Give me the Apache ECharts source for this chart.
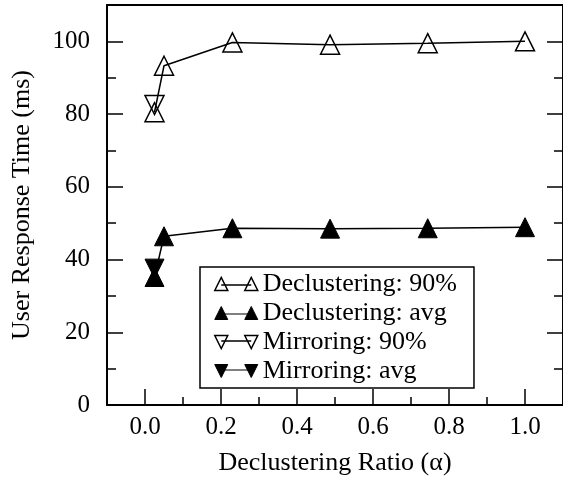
<!DOCTYPE html>
<html>
<head>
<meta charset="utf-8">
<script src="https://cdn.jsdelivr.net/npm/echarts@6/dist/echarts.min.js"></script>
<style>
  html, body { margin: 0; padding: 0; background: #fff; }
  #chart { width: 563px; height: 481px; }
</style>
</head>
<body>
<div id="chart"></div>
<script>
// Declustering ratio (alpha) at which each run was measured
const declRatio = [0.025, 0.05, 0.23, 0.487, 0.744, 1.0];
// User response time (ms)
const declP90 = [80.5, 93.3, 99.7, 99.1, 99.5, 100.0];
const declAvg = [35.2, 46.4, 48.6, 48.5, 48.6, 48.9];
const mirrRatio = [0.025];
const mirrP90 = [82.5];
const mirrAvg = [37.5];

const seriesNames = ['Declustering: 90%', 'Declustering: avg', 'Mirroring: 90%', 'Mirroring: avg'];
const xMajor = [0, 0.2, 0.4, 0.6, 0.8, 1.0];
const xMinor = [0.1, 0.3, 0.5, 0.7, 0.9];
const yMajor = [0, 20, 40, 60, 80, 100];
const yMinor = [10, 30, 50, 70, 90];

const FONT = 'Liberation Serif';
const INK = '#000';

const pairs = (xs, ys) => xs.map((x, i) => [x, ys[i]]);

// Legend glyphs: two markers joined by a short line
const upPair = 'path://M0 13 L6.5 0 L13 13 Z M6.5 7.5 L36.5 7.5 M30 13 L36.5 0 L43 13 Z';
const downPair = 'path://M0 0 L6.5 13 L13 0 Z M6.5 5.5 L36.5 5.5 M30 0 L36.5 13 L43 0 Z';

const hollow = { color: 'rgba(0,0,0,0)', borderColor: INK, borderWidth: 1.5 };
const solid = { color: INK, borderColor: INK, borderWidth: 1 };

const noLine = { show: false, onZero: false };
const axisLine = { show: true, onZero: false, lineStyle: { color: INK, width: 2 } };

function xAxisDef(extra) {
  return Object.assign({
    type: 'value', min: -0.1, max: 1.1, position: 'bottom',
    splitLine: { show: false },
    axisLine: noLine,
    axisTick: { show: false },
    axisLabel: { show: false }
  }, extra);
}
function yAxisDef(extra) {
  return Object.assign({
    type: 'value', min: 0, max: 110, position: 'left',
    splitLine: { show: false },
    axisLine: noLine,
    axisTick: { show: false },
    axisLabel: { show: false }
  }, extra);
}

const majorTick = (vals) => ({ show: true, inside: true, length: 16, customValues: vals, lineStyle: { color: INK, width: 1.5 } });
const minorTick = (vals, len) => ({ show: true, inside: true, length: len, customValues: vals, lineStyle: { color: INK, width: 1.5 } });

const chart = echarts.init(document.getElementById('chart'), null, { renderer: 'canvas' });

chart.setOption({
  animation: false,
  backgroundColor: '#fff',
  textStyle: { fontFamily: FONT, color: INK },
  grid: { left: 107, top: 5, width: 462, height: 403, containLabel: false },
  xAxis: [
    xAxisDef({
      axisLine: axisLine,
      axisTick: majorTick(xMajor),
      axisLabel: {
        show: true, customValues: xMajor, margin: 10,
        fontFamily: FONT, fontSize: 25, color: INK,
        formatter: (v) => v.toFixed(1)
      },
      name: 'Declustering Ratio (\u03B1)',
      nameLocation: 'middle', nameGap: 45,
      nameTextStyle: { fontFamily: FONT, fontSize: 26, color: INK }
    }),
    xAxisDef({ axisTick: minorTick(xMinor, 8) }),
    xAxisDef({ position: 'top', axisLine: axisLine })
  ],
  yAxis: [
    yAxisDef({
      axisLine: axisLine,
      axisTick: majorTick(yMajor),
      axisLabel: {
        show: true, customValues: yMajor, margin: 17,
        fontFamily: FONT, fontSize: 25, color: INK
      },
      name: 'User Response Time (ms)',
      nameLocation: 'middle', nameGap: 72,
      nameTextStyle: { fontFamily: FONT, fontSize: 26, color: INK }
    }),
    yAxisDef({ axisTick: minorTick(yMinor, 9) }),
    yAxisDef({ position: 'right', axisLine: axisLine, axisTick: majorTick(yMajor) }),
    yAxisDef({ position: 'right', axisTick: minorTick(yMinor, 9) })
  ],
  legend: {
    orient: 'vertical',
    left: 200, top: 267,
    padding: [4, 17, 4, 14],
    itemGap: 3,
    itemWidth: 43, itemHeight: 13,
    itemTextGap: 6,
    borderColor: INK, borderWidth: 1.5, borderRadius: 0,
    backgroundColor: '#fff',
    selectedMode: false,
    textStyle: { fontFamily: FONT, fontSize: 26, color: INK },
    data: [
      { name: seriesNames[0], icon: upPair, itemStyle: hollow },
      { name: seriesNames[1], icon: upPair, itemStyle: solid },
      { name: seriesNames[2], icon: downPair, itemStyle: hollow },
      { name: seriesNames[3], icon: downPair, itemStyle: solid }
    ]
  },
  series: [
    {
      name: seriesNames[0], type: 'line', data: pairs(declRatio, declP90),
      symbol: 'triangle', symbolSize: 19,
      itemStyle: hollow, lineStyle: { color: INK, width: 1.5 }, z: 3
    },
    {
      name: seriesNames[1], type: 'line', data: pairs(declRatio, declAvg),
      symbol: 'triangle', symbolSize: 19,
      itemStyle: solid, lineStyle: { color: INK, width: 1.5 }, z: 3
    },
    {
      name: seriesNames[2], type: 'line', data: pairs(mirrRatio, mirrP90),
      symbol: 'triangle', symbolRotate: 180, symbolSize: 19,
      itemStyle: hollow, lineStyle: { color: INK, width: 1.5 }, z: 3
    },
    {
      name: seriesNames[3], type: 'line', data: pairs(mirrRatio, mirrAvg),
      symbol: 'triangle', symbolRotate: 180, symbolSize: 19,
      itemStyle: solid, lineStyle: { color: INK, width: 1.5 }, z: 3
    }
  ]
});
</script>
</body>
</html>
